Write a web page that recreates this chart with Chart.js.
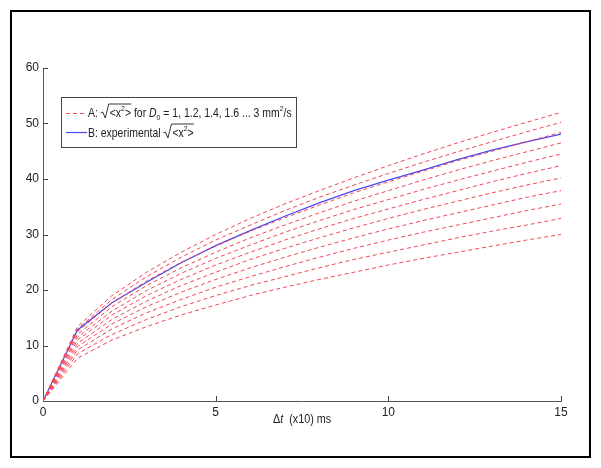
<!DOCTYPE html>
<html>
<head>
<meta charset="utf-8">
<script src="https://cdn.jsdelivr.net/npm/chart.js@4"></script>
<style>
  body { margin: 0; background: #fff; }
  canvas { display: block; }
</style>
</head>
<body>
<canvas id="rmsChart" width="601" height="468"></canvas>
<script>
// time steps, Δt in units of 10 ms
const steps = [0, 1, 2, 3, 4, 5, 6, 7, 8, 9, 10, 11, 12, 13, 14, 15];

// model curves sqrt(<x^2>) for D0 = 1 ... 3 mm2/s
const rmsD1_0 = [0, 7.7, 11.0, 13.4, 15.5, 17.3, 19.0, 20.5, 21.9, 23.2, 24.5, 25.7, 26.8, 27.9, 29.0, 30.0];
const rmsD1_2 = [0, 8.5, 12.0, 14.7, 17.0, 19.0, 20.8, 22.4, 24.0, 25.5, 26.8, 28.1, 29.4, 30.6, 31.7, 32.9];
const rmsD1_4 = [0, 9.2, 13.0, 15.9, 18.3, 20.5, 22.4, 24.2, 25.9, 27.5, 29.0, 30.4, 31.7, 33.0, 34.3, 35.5];
const rmsD1_6 = [0, 9.8, 13.9, 17.0, 19.6, 21.9, 24.0, 25.9, 27.7, 29.4, 31.0, 32.5, 33.9, 35.3, 36.7, 37.9];
const rmsD1_8 = [0, 10.4, 14.7, 18.0, 20.8, 23.2, 25.5, 27.5, 29.4, 31.2, 32.9, 34.5, 36.0, 37.5, 38.9, 40.2];
const rmsD2_0 = [0, 11.0, 15.5, 19.0, 21.9, 24.5, 26.8, 29.0, 31.0, 32.9, 34.6, 36.3, 37.9, 39.5, 41.0, 42.4];
const rmsD2_2 = [0, 11.5, 16.2, 19.9, 23.0, 25.7, 28.1, 30.4, 32.5, 34.5, 36.3, 38.1, 39.8, 41.4, 43.0, 44.5];
const rmsD2_4 = [0, 12.0, 17.0, 20.8, 24.0, 26.8, 29.4, 31.7, 33.9, 36.0, 37.9, 39.8, 41.6, 43.3, 44.9, 46.5];
const rmsD2_6 = [0, 12.5, 17.7, 21.6, 25.0, 27.9, 30.6, 33.0, 35.3, 37.5, 39.5, 41.4, 43.3, 45.0, 46.7, 48.4];
const rmsD2_8 = [0, 13.0, 18.3, 22.4, 25.9, 29.0, 31.7, 34.3, 36.7, 38.9, 41.0, 43.0, 44.9, 46.7, 48.5, 50.2];
const rmsD3_0 = [0, 13.4, 19.0, 23.2, 26.8, 30.0, 32.9, 35.5, 37.9, 40.2, 42.4, 44.5, 46.5, 48.4, 50.2, 52.0];

// experimental curve
const rmsMeasured = [0, 12.8, 17.7, 21.4, 24.9, 28.0, 30.7, 33.3, 35.7, 37.9, 39.8, 41.6, 43.5, 45.2, 46.7, 48.1];

const xTicks = [0, 5, 10, 15];
const yTicks = [0, 10, 20, 30, 40, 50, 60];

const modelCurves = [rmsD1_0, rmsD1_2, rmsD1_4, rmsD1_6, rmsD1_8, rmsD2_0, rmsD2_2, rmsD2_4, rmsD2_6, rmsD2_8, rmsD3_0];

const toPoints = vals => vals.map((v, i) => ({x: steps[i], y: v}));

const RED = 'rgb(242,70,85)';
const BLUE = 'rgb(70,70,245)';
const TXT = '#222';
const FONT = '"Liberation Sans", Arial, sans-serif';

const datasets = modelCurves.map(c => ({
    data: toPoints(c),
    borderColor: RED,
    borderWidth: 1,
    borderDash: [4, 3],
    pointRadius: 0,
    fill: false
}));
datasets.push({
    data: toPoints(rmsMeasured),
    borderColor: BLUE,
    borderWidth: 1.2,
    pointRadius: 0,
    fill: false
});

// draws a piece list left to right (squeezed by sx), returns end x
function drawPieces(ctx, x, y, pieces, sx) {
    sx = sx || 1;
    pieces.forEach(p => {
        if (p.sqrt) {
            const w = p.width;
            ctx.save();
            ctx.strokeStyle = TXT;
            ctx.lineWidth = 0.9;
            ctx.beginPath();
            ctx.moveTo(x, y - 4);
            ctx.lineTo(x + 2, y - 5);
            ctx.lineTo(x + 4.5, y + 1);
            ctx.lineTo(x + 8, y - 13);
            ctx.lineTo(x + 9 + w, y - 13);
            ctx.stroke();
            ctx.restore();
            x += 9;
            return;
        }
        let size = 12, dy = 0, style = '';
        if (p.sup) { size = 8; dy = -6; }
        if (p.sub) { size = 8; dy = 3; }
        if (p.it) style = 'italic ';
        ctx.save();
        ctx.font = style + size + 'px ' + FONT;
        ctx.fillStyle = TXT;
        ctx.textBaseline = 'alphabetic';
        ctx.textAlign = 'left';
        ctx.translate(x, y + dy);
        ctx.scale(sx, 1);
        ctx.fillText(p.t, 0, 0);
        x += ctx.measureText(p.t).width * sx;
        ctx.restore();
    });
    return x;
}

const chartDecor = {
    id: 'chartDecor',
    afterDraw(chart) {
        const ctx = chart.ctx;
        const xs = chart.scales.x, ys = chart.scales.y;
        const ca = chart.chartArea;
        ctx.save();

        // inward tick marks
        ctx.strokeStyle = '#444';
        ctx.lineWidth = 1;
        ctx.beginPath();
        yTicks.forEach(v => {
            if (v === 0) return;
            const py = Math.round(ys.getPixelForValue(v)) + 0.5;
            ctx.moveTo(ca.left, py);
            ctx.lineTo(ca.left + 5, py);
        });
        xTicks.forEach(v => {
            if (v === 0) return;
            const px = Math.round(xs.getPixelForValue(v)) + 0.5;
            ctx.moveTo(px, ca.bottom);
            ctx.lineTo(px, ca.bottom - 5);
        });
        ctx.stroke();

        // x axis title: Δt (x10) ms
        drawPieces(ctx, 273, 423, [{t: 'Δ'}, {t: 't', it: true}, {t: '  (x10) ms'}], 0.9);

        // legend
        const lx = 61, ly = 97, lw = 235, lh = 50;
        ctx.fillStyle = '#fff';
        ctx.fillRect(lx, ly, lw, lh);
        ctx.strokeStyle = '#444';
        ctx.lineWidth = 1;
        ctx.strokeRect(lx + 0.5, ly + 0.5, lw, lh);

        ctx.strokeStyle = RED;
        ctx.setLineDash([4, 3]);
        ctx.beginPath();
        ctx.moveTo(66, 113.5);
        ctx.lineTo(87, 113.5);
        ctx.stroke();
        ctx.setLineDash([]);
        ctx.strokeStyle = BLUE;
        ctx.lineWidth = 1.2;
        ctx.beginPath();
        ctx.moveTo(66, 132.5);
        ctx.lineTo(87, 132.5);
        ctx.stroke();

        const sq = 0.87;
        ctx.font = '12px ' + FONT;
        const grp = ctx.measureText('<x>').width * sq + 4;
        drawPieces(ctx, 88, 117, [
            {t: 'A: '}, {sqrt: true, width: grp}, {t: '<x'}, {t: '2', sup: true}, {t: '>'},
            {t: ' for '}, {t: 'D', it: true}, {t: '0', sub: true},
            {t: ' = 1, 1.2, 1.4, 1.6 ... 3 mm'}, {t: '2', sup: true}, {t: '/s'}
        ], sq);
        drawPieces(ctx, 88, 137, [
            {t: 'B: experimental '}, {sqrt: true, width: grp}, {t: '<x'}, {t: '2', sup: true}, {t: '>'}
        ], sq);

        // outer frame
        ctx.strokeStyle = '#000';
        ctx.lineWidth = 2;
        ctx.strokeRect(11, 11, 579, 446);
        ctx.restore();
    }
};

const ctx = document.getElementById('rmsChart').getContext('2d');
const rmsChart = new Chart(ctx, {
    type: 'line',
    data: { datasets: datasets },
    options: {
        responsive: false,
        animation: false,
        layout: { padding: { left: 0, top: 68, right: 40, bottom: 0 } },
        plugins: {
            legend: { display: false },
            tooltip: { enabled: false }
        },
        scales: {
            x: {
                type: 'linear',
                min: 0,
                max: 15,
                afterFit: s => { s.height = 67; },
                afterBuildTicks: s => { s.ticks = xTicks.map(v => ({value: v})); },
                grid: { drawOnChartArea: false, drawTicks: false, color: 'rgba(0,0,0,0)' },
                border: { display: true, color: '#555', width: 1 },
                ticks: {
                    padding: 4,
                    color: TXT,
                    font: { family: FONT, size: 12 },
                    maxRotation: 0
                }
            },
            y: {
                type: 'linear',
                min: 0,
                max: 60,
                afterFit: s => { s.width = 43; },
                afterBuildTicks: s => { s.ticks = yTicks.map(v => ({value: v})); },
                grid: { drawOnChartArea: false, drawTicks: false, color: 'rgba(0,0,0,0)' },
                border: { display: true, color: '#555', width: 1 },
                ticks: {
                    padding: 4,
                    color: TXT,
                    font: { family: FONT, size: 12 }
                }
            }
        }
    },
    plugins: [chartDecor]
});
</script>
</body>
</html>
